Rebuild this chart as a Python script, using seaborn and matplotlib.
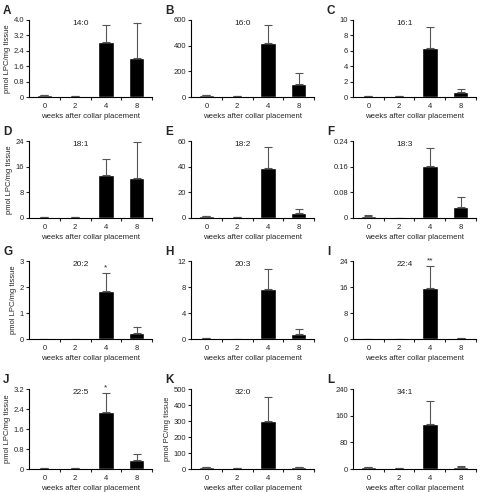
import numpy as np
import pandas as pd
import matplotlib
matplotlib.use("Agg")
import matplotlib.pyplot as plt
import seaborn as sns

# categories
weeks = ["0", "2", "4", "8"]
panel_letters = ["A", "B", "C", "D", "E", "F", "G", "H", "I", "J", "K", "L"]
species = ["14:0", "16:0", "16:1", "18:1", "18:2", "18:3",
           "20:2", "20:3", "22:4", "22:5", "32:0", "34:1"]

# bar heights (means) and upper error (SEM) per panel
a_mean = [0.12, 0.05, 2.84, 2.02]
a_err = [0.0, 0.0, 0.92, 1.84]
b_mean = [15, 5, 424, 100]
b_err = [3, 1, 135, 86]
c_mean = [0.12, 0.08, 6.3, 0.6]
c_err = [0.02, 0.0, 2.8, 0.4]
d_mean = [0.3, 0.3, 13.4, 12.6]
d_err = [0.05, 0.05, 5.1, 11.1]
e_mean = [1.2, 0.8, 38.9, 4.1]
e_err = [0.2, 0.1, 16.8, 2.9]
f_mean = [0.005, 0.0, 0.163, 0.035]
f_err = [0.003, 0.0, 0.056, 0.032]
g_mean = [0.01, 0.01, 1.84, 0.25]
g_err = [0.0, 0.0, 0.71, 0.21]
h_mean = [0.15, 0.02, 7.65, 0.82]
h_err = [0.02, 0.0, 3.15, 0.71]
i_mean = [0.02, 0.02, 15.6, 0.3]
i_err = [0.0, 0.0, 6.9, 0.05]
j_mean = [0.04, 0.04, 2.29, 0.37]
j_err = [0.0, 0.0, 0.74, 0.24]
k_mean = [10, 4, 301, 12]
k_err = [2, 1, 151, 2]
l_mean = [5, 3, 135, 7]
l_err = [1, 0.5, 69, 1]

means = [a_mean, b_mean, c_mean, d_mean, e_mean, f_mean,
         g_mean, h_mean, i_mean, j_mean, k_mean, l_mean]
errs = [a_err, b_err, c_err, d_err, e_err, f_err,
        g_err, h_err, i_err, j_err, k_err, l_err]

# y tick values / labels per panel
yticks = [
    [0, 0.8, 1.6, 2.4, 3.2, 4.0],
    [0, 200, 400, 600],
    [0, 2, 4, 6, 8, 10],
    [0, 8, 16, 24],
    [0, 20, 40, 60],
    [0, 0.08, 0.16, 0.24],
    [0, 1, 2, 3],
    [0, 4, 8, 12],
    [0, 8, 16, 24],
    [0, 0.8, 1.6, 2.4, 3.2],
    [0, 100, 200, 300, 400, 500],
    [0, 80, 160, 240],
]
ytick_labels = [
    ["0", "0.8", "1.6", "2.4", "3.2", "4.0"],
    ["0", "200", "400", "600"],
    ["0", "2", "4", "6", "8", "10"],
    ["0", "8", "16", "24"],
    ["0", "20", "40", "60"],
    ["0", "0.08", "0.16", "0.24"],
    ["0", "1", "2", "3"],
    ["0", "4", "8", "12"],
    ["0", "8", "16", "24"],
    ["0", "0.8", "1.6", "2.4", "3.2"],
    ["0", "100", "200", "300", "400", "500"],
    ["0", "80", "160", "240"],
]
ylabels = {0: "pmol LPC/mg tissue", 3: "pmol LPC/mg tissue",
           6: "pmol LPC/mg tissue", 9: "pmol LPC/mg tissue",
           10: "pmol PC/mg tissue"}
stars = {6: "*", 8: "**", 9: "*"}

sns.set_style("ticks")
plt.rcParams["font.family"] = ["Liberation Sans", "DejaVu Sans"]

W, H = 481, 492
fig = plt.figure(figsize=(W / 100, H / 100), dpi=100)

col_left = [29, 191, 353]
ax_w = 123
row_top = [20, 141, 261, 389]
row_bot = [97, 218, 339, 469]

for idx in range(12):
    r, c = divmod(idx, 3)
    left = col_left[c] / W
    bottom = 1 - row_bot[r] / H
    height = (row_bot[r] - row_top[r]) / H
    ax = fig.add_axes([left, bottom, ax_w / W, height])

    df = pd.DataFrame({"week": weeks, "value": means[idx]})
    sns.barplot(data=df, x="week", y="value", order=weeks, color="black",
                saturation=1, width=0.5, errorbar=None, ax=ax)
    ax.errorbar(np.arange(len(weeks)), means[idx],
                yerr=[np.zeros(len(weeks)), errs[idx]],
                fmt="none", ecolor="#555555", elinewidth=0.8,
                capsize=3, capthick=0.8)

    ax.set_xlim(-0.5, 3.5)
    ax.set_ylim(0, yticks[idx][-1])
    ax.set_yticks(yticks[idx])
    ax.set_yticklabels(ytick_labels[idx])
    ax.set_xticks(range(4))
    ax.set_xticklabels(weeks)
    ax.set_xticks([0.5, 1.5, 2.5, 3.5], minor=True)
    ax.tick_params(axis="x", which="major", length=0, labelsize=5.5, pad=4)
    ax.tick_params(axis="x", which="minor", length=2.5, width=0.8,
                   direction="out")
    ax.tick_params(axis="y", length=2, width=0.8, labelsize=5.5, pad=1.5)

    sns.despine(ax=ax)
    for s in ["left", "bottom"]:
        ax.spines[s].set_linewidth(0.8)
        ax.spines[s].set_color("black")

    ax.set_xlabel("weeks after collar placement", fontsize=5.6, labelpad=2.5)
    ax.set_ylabel(ylabels.get(idx, ""), fontsize=5.5, labelpad=2)

    ax.text(0.42, 0.95, species[idx], transform=ax.transAxes,
            ha="center", va="center", fontsize=6, color="#222222")
    if idx in stars:
        top = means[idx][2] + errs[idx][2]
        ax.text(2, top + 0.02 * yticks[idx][-1], stars[idx],
                ha="center", va="bottom", fontsize=6)

    fig.text((col_left[c] - 26) / W, 1 - (row_top[r] - 9) / H,
             panel_letters[idx], fontsize=8.5, fontweight="bold",
             ha="left", va="center")

fig.savefig("out.png", dpi=100)
